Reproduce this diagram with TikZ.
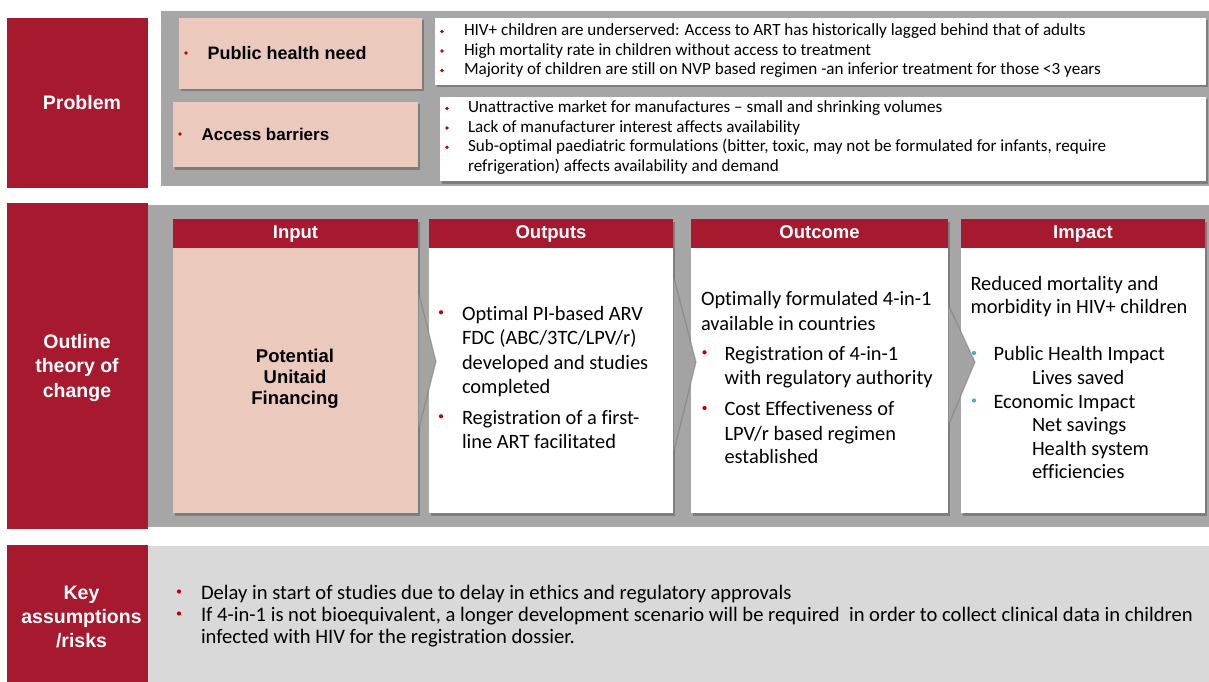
\documentclass[tikz,border=0pt]{standalone}
\usepackage{fontspec}
\setmainfont{Carlito}[Ligatures=NoCommon]
\newfontfamily\arialf{Liberation Sans}
\usetikzlibrary{shadows}
\definecolor{ured}{HTML}{A6192E}
\definecolor{upink}{HTML}{EBC9BD}
\definecolor{ugray}{HTML}{A6A6A6}
\definecolor{ulight}{HTML}{D9D9D9}
\definecolor{ubul}{HTML}{C00000}
\definecolor{ucyan}{HTML}{4BACC6}
\definecolor{uchev}{HTML}{A3A3A3}
\begin{document}
\begin{tikzpicture}[x=1pt,y=-1pt,
  shad/.style={drop shadow={shadow xshift=1.5pt,shadow yshift=-2.5pt,opacity=0.45,fill=black!70}},
  ln/.style={anchor=base west,inner sep=0pt,outer sep=0pt},
  tA/.style={ln,font=\fontsize{17.1}{19.5}\selectfont},
  tB/.style={ln,font=\fontsize{20.4}{24.5}\selectfont},
  tC/.style={ln,font=\fontsize{20.6}{22}\selectfont},
  hd/.style={anchor=base,inner sep=0pt,text=white,font=\arialf\bfseries\fontsize{18.5}{22}\selectfont},
  side/.style={anchor=base,inner sep=0pt,text=white,font=\arialf\bfseries\fontsize{19.5}{24}\selectfont},
  pin/.style={anchor=base west,inner sep=0pt,font=\arialf\bfseries\fontsize{18}{22}\selectfont},
  inp/.style={anchor=base,inner sep=0pt,font=\arialf\bfseries\fontsize{18.5}{21}\selectfont},
  bul/.style={circle,fill=ubul,inner sep=0pt,minimum size=3.8pt},
  bulc/.style={circle,fill=ucyan,inner sep=0pt,minimum size=4.2pt},
  chev/.style={fill=uchev,draw=black!55,line width=1.3pt,draw opacity=0.45,line join=miter}
]
\useasboundingbox (0,0) rectangle (1209,682);
\fill[white] (0,0) rectangle (1209,682);

% ---------- Problem ----------
\fill[ured] (7,18) rectangle (148,188);
\node[side] (problem) at (82,110) {Problem};
\fill[ugray] (161,11) rectangle (1209,186);
\fill[upink,shad] (179,18) rectangle (422,89);
\fill[upink,shad] (173,102) rectangle (418,167);
\node[bul] (bph) at (186,53) {};
\node[pin] (phn) at (207.5,59.5) {Public health need};
\node[bul] (bab) at (180,134) {};
\node[pin,font=\arialf\bfseries\fontsize{17}{22}\selectfont] (abr) at (201.5,140) {Access barriers};
\fill[white,shad] (435,18) rectangle (1206,85);
\fill[white,shad] (440,97) rectangle (1206,181);
\node[bul] (b11) at (442,31.5) {};
\node[bul] (b12) at (442,51) {};
\node[bul] (b13) at (442,70.5) {};
\node[tA] (t11) at (464,36) {HIV+ children are underserved: Access to ART has historically lagged behind that of adults};
\node[tA] (t12) at (464,55.5) {High mortality rate in children without access to treatment};
\node[tA] (t13) at (464,75) {Majority of children are still on NVP based regimen -an inferior treatment for those <3 years};
\node[bul] (b21) at (447,108.5) {};
\node[bul] (b22) at (447,128) {};
\node[bul] (b23) at (447,147.3) {};
\node[tA] (t21) at (468,113) {Unattractive market for manufactures – small and shrinking volumes};
\node[tA] (t22) at (468,132.4) {Lack of manufacturer interest affects availability};
\node[tA] (t23) at (468,151.7) {Sub-optimal paediatric formulations (bitter, toxic, may not be formulated for infants, require};
\node[tA] (t24) at (468,171) {refrigeration) affects availability and demand};

% ---------- Theory of change ----------
\fill[ured] (7,203) rectangle (148,529);
\node[side] (oc1) at (77,348) {Outline};
\node[side] (oc2) at (77,372.5) {theory of};
\node[side] (oc3) at (77,397) {change};
\fill[ugray] (148,205) rectangle (1209,527);

\fill[upink,shad] (173,219) rectangle (418,513);
\fill[ured] (173,219) rectangle (418,248);
\fill[white,shad] (429,219) rectangle (673,513);
\fill[ured] (429,219) rectangle (673,248);
\fill[white,shad] (691,219) rectangle (948,513);
\fill[ured] (691,219) rectangle (948,248);
\fill[white,shad] (961,219) rectangle (1205,513);
\fill[ured] (961,219) rectangle (1205,248);

\node[hd] (hin) at (295.5,238.5) {Input};
\node[hd] (hou) at (551,238.5) {Outputs};
\node[hd] (hoc) at (819.5,238.5) {Outcome};
\node[hd] (him) at (1083,238.5) {Impact};

% chevrons
\filldraw[chev] (418.5,292) -- (436,361.5) -- (418.5,430);
\filldraw[chev] (673.5,276) -- (696,362) -- (673.5,453);
\filldraw[chev] (948.5,305) -- (975,362) -- (948.5,425);

% Input
\node[inp] (in1) at (295,362) {Potential};
\node[inp] (in2) at (295,383) {Unitaid};
\node[inp] (in3) at (295,404) {Financing};

% Outputs
\node[bul,minimum size=4.2pt] (bo1) at (441,312.3) {};
\node[bul,minimum size=4.2pt] (bo2) at (441,416.3) {};
\node[tB] (o1) at (462,320) {Optimal PI-based ARV};
\node[tB] (o2) at (462,344.6) {FDC (ABC/3TC/LPV/r)};
\node[tB] (o3) at (462,369.2) {developed and studies};
\node[tB] (o4) at (462,393.8) {completed};
\node[tB] (o5) at (462,424) {Registration of a first-};
\node[tB] (o6) at (462,448.6) {line ART facilitated};

% Outcome
\node[tB] (u1) at (701,305) {Optimally formulated 4-in-1};
\node[tB] (u2) at (701,330) {available in countries};
\node[bul,minimum size=4.2pt] (bu1) at (704.5,352.3) {};
\node[bul,minimum size=4.2pt] (bu2) at (704.5,408) {};
\node[tB] (u3) at (724.5,360) {Registration of 4-in-1};
\node[tB] (u4) at (724.5,384.3) {with regulatory authority};
\node[tB] (u5) at (724.5,415.7) {Cost Effectiveness of};
\node[tB] (u6) at (724.5,440) {LPV/r based regimen};
\node[tB] (u7) at (724.5,463.5) {established};

% Impact
\node[tB] (m1) at (970.5,290.5) {Reduced mortality and};
\node[tB] (m2) at (970.5,313.5) {morbidity in HIV+ children};
\node[bulc] (bm1) at (974,353) {};
\node[bulc] (bm2) at (974,400.5) {};
\node[tB] (m3) at (993.5,360.5) {Public Health Impact};
\node[tB] (m4) at (1032,384) {Lives saved};
\node[tB] (m5) at (993.5,408) {Economic Impact};
\node[tB] (m6) at (1032,431.5) {Net savings};
\node[tB] (m7) at (1032,455) {Health system};
\node[tB] (m8) at (1032,478.5) {efficiencies};

% ---------- Key assumptions ----------
\fill[ured] (7,545) rectangle (148,682);
\fill[ulight] (148,545.5) rectangle (1209,682);
\node[side] (k1) at (81.5,599.5) {Key};
\node[side] (k2) at (81.5,623.5) {assumptions};
\node[side] (k3) at (81.5,647.5) {/risks};
\node[bul,minimum size=4.2pt] (bk1) at (179,591.5) {};
\node[bul,minimum size=4.2pt] (bk2) at (179,613.5) {};
\node[tC] (r1) at (201,599) {Delay in start of studies due to delay in ethics and regulatory approvals};
\node[tC] (r2) at (201,621) {If 4-in-1 is not bioequivalent, a longer development scenario will be required \ in order to collect clinical data in children};
\node[tC] (r3) at (201,643) {infected with HIV for the registration dossier.};
\end{tikzpicture}
\end{document}
